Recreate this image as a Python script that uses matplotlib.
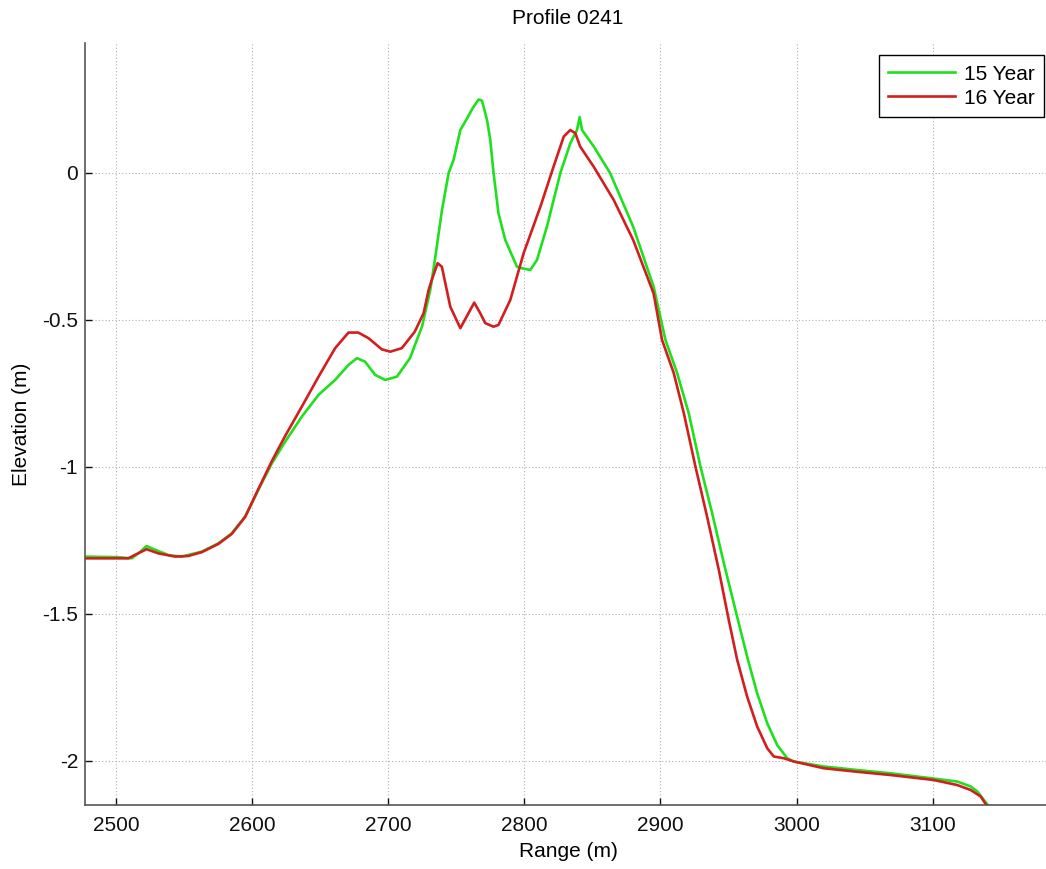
import numpy as np
import matplotlib
matplotlib.use("Agg")
import matplotlib.pyplot as plt
from matplotlib.ticker import FuncFormatter

plt.rcParams['font.family'] = ['Liberation Sans', 'DejaVu Sans']

# Profile data (range in m, elevation in m)
range_15 = [2477, 2501.7, 2511.5, 2516.4, 2522.5, 2526.2, 2538.5, 2548.3, 2563, 2575.2,
            2585, 2594.9, 2604.6, 2614.5, 2624.3, 2636.5, 2648.8, 2661, 2670.8, 2677,
            2683, 2690.4, 2697.8, 2706.4, 2716, 2725, 2730.9, 2734.6, 2739.5, 2744.4,
            2748, 2753, 2758, 2762, 2766.4, 2768.9, 2772.6, 2775, 2777.4, 2781, 2786,
            2794.6, 2799, 2804.4, 2809.3, 2816.6, 2826.5, 2833.8, 2838.7, 2840.7, 2842.4,
            2851, 2863, 2880, 2895, 2903.7, 2912.3, 2920.8, 2929.4, 2938, 2946.6,
            2955.1, 2963.7, 2971.1, 2978.5, 2985.8, 2993.2, 2998, 3020, 3044.6, 3069,
            3093.6, 3118, 3128, 3132.9, 3137.7, 3141.4]
elev_15 = [-1.305, -1.307, -1.311, -1.294, -1.269, -1.277, -1.300, -1.305, -1.288, -1.260,
           -1.226, -1.169, -1.078, -0.988, -0.914, -0.829, -0.755, -0.704, -0.653, -0.630,
           -0.642, -0.687, -0.704, -0.693, -0.630, -0.520, -0.398, -0.286, -0.126, 0.0,
           0.044, 0.146, 0.186, 0.220, 0.250, 0.246, 0.180, 0.112, 0.0, -0.137, -0.228,
           -0.319, -0.325, -0.330, -0.296, -0.183, 0.0, 0.101, 0.146, 0.190, 0.146,
           0.090, 0.0, -0.183, -0.387, -0.568, -0.681, -0.817, -0.998, -1.157, -1.327,
           -1.486, -1.645, -1.770, -1.872, -1.946, -1.991, -2.002, -2.019, -2.031, -2.042,
           -2.056, -2.070, -2.087, -2.104, -2.133, -2.155]

range_16 = [2477, 2509, 2514, 2522.5, 2531, 2543.4, 2553, 2563, 2575.2, 2585,
            2594.9, 2604.6, 2614.5, 2624, 2636.5, 2648.8, 2661, 2670.8, 2678, 2685.5,
            2695.3, 2701.5, 2710, 2719.5, 2726, 2729.7, 2732, 2736.3, 2739.4, 2745.6,
            2753, 2759, 2763.2, 2767.6, 2771.3, 2777.4, 2781, 2789.7, 2799.5, 2811.8,
            2821.6, 2829, 2833.8, 2837.5, 2841, 2851, 2865.7, 2880, 2895, 2901.2,
            2909.8, 2917.2, 2925.7, 2934.3, 2942.9, 2950.2, 2956.4, 2963.7, 2971.1, 2978.5,
            2983.3, 2990.7, 2998, 3020, 3044.6, 3069, 3100.9, 3118, 3128, 3135.3,
            3140.2]
elev_16 = [-1.311, -1.311, -1.299, -1.280, -1.294, -1.305, -1.303, -1.290, -1.262, -1.228,
           -1.170, -1.075, -0.980, -0.897, -0.795, -0.693, -0.596, -0.543, -0.543, -0.562,
           -0.600, -0.608, -0.596, -0.540, -0.477, -0.398, -0.364, -0.307, -0.319, -0.455,
           -0.528, -0.477, -0.441, -0.477, -0.511, -0.523, -0.517, -0.432, -0.273, -0.115,
           0.023, 0.124, 0.146, 0.135, 0.090, 0.021, -0.092, -0.228, -0.410, -0.568,
           -0.681, -0.817, -0.998, -1.169, -1.350, -1.520, -1.656, -1.781, -1.883, -1.957,
           -1.985, -1.991, -2.002, -2.025, -2.037, -2.048, -2.065, -2.082, -2.099, -2.121,
           -2.155]

x_ticks = [2500, 2600, 2700, 2800, 2900, 3000, 3100]
y_ticks = [-2, -1.5, -1, -0.5, 0]

W, H = 1046, 869
fig = plt.figure(figsize=(W / 100, H / 100), dpi=100)
# axes run slightly past the right edge of the picture, like the reference
ax = fig.add_axes([85 / W, 1 - 805 / H, 966 / W, 762 / H])

ax.plot(range_15, elev_15, color='#1fe01f', linewidth=1.9, label='15 Year')
ax.plot(range_16, elev_16, color='#d21e1e', linewidth=1.9, label='16 Year')

ax.set_xlim(2477.2, 3187)
ax.set_ylim(-2.15, 0.442)
ax.set_xticks(x_ticks)
ax.set_yticks(y_ticks)
ax.yaxis.set_major_formatter(FuncFormatter(lambda v, p: f"{v:g}"))
ax.tick_params(direction='in', length=5, width=1, labelsize=15, colors='#111111')
ax.tick_params(axis='x', pad=8)
ax.tick_params(axis='y', pad=5)
for s in ('top', 'right'):
    ax.spines[s].set_visible(False)
for s in ('left', 'bottom'):
    ax.spines[s].set_color('#555555')
    ax.spines[s].set_linewidth(1.2)

ax.grid(True, linestyle=(0, (1, 2)), color='#b0b0b0', linewidth=0.8)
ax.set_axisbelow(True)

ax.set_title('Profile 0241', fontsize=15, pad=14)
ax.set_xlabel('Range (m)', fontsize=15, labelpad=5)
ax.set_ylabel('Elevation (m)', fontsize=15, labelpad=8)

leg = ax.legend(loc='upper right', bbox_to_anchor=(0.9928, 0.984), fontsize=15,
                handlelength=3.2, fancybox=False, framealpha=1,
                edgecolor='black', borderpad=0.45, labelspacing=0.25,
                handletextpad=0.45, borderaxespad=0)
leg.get_frame().set_linewidth(1.0)

fig.savefig('out.png', dpi=100)
